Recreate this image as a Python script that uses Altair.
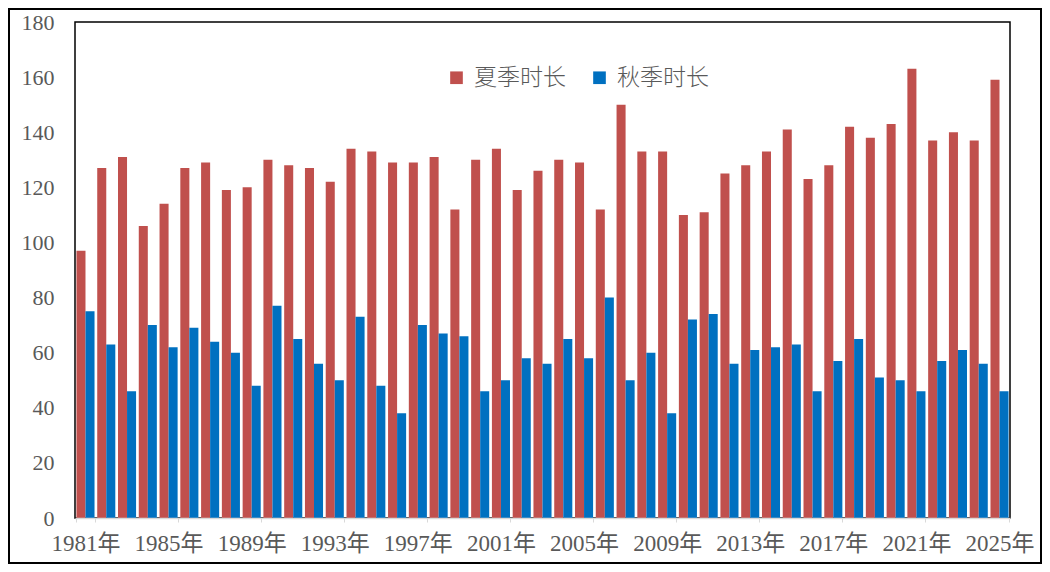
import altair as alt
import pandas as pd

years = list(range(1981, 2026))
summer = [97, 127, 131, 106, 114, 127, 129, 119, 120, 130,
          128, 127, 122, 134, 133, 129, 129, 131, 112, 130,
          134, 119, 126, 130, 129, 112, 150, 133, 133, 110,
          111, 125, 128, 133, 141, 123, 128, 142, 138, 143,
          163, 137, 140, 137, 159]
autumn = [75, 63, 46, 70, 62, 69, 64, 60, 48, 77,
          65, 56, 50, 73, 48, 38, 70, 67, 66, 46,
          50, 58, 56, 65, 58, 80, 50, 60, 38, 72,
          74, 56, 61, 62, 63, 46, 57, 65, 51, 50,
          46, 57, 61, 56, 46]
series = ["夏季时长", "秋季时长"]
colors = ["#C0504D", "#0070C0"]
year_labels = [f"{y}年" for y in years]
tick_labels = [f"{y}年" for y in years if (y - 1981) % 4 == 0]

rows = []
for lab, s, a in zip(year_labels, summer, autumn):
    rows.append({"year": lab, "series": series[0], "value": s})
    rows.append({"year": lab, "series": series[1], "value": a})
df = pd.DataFrame(rows)

serif = "Times New Roman, Liberation Serif, Noto Sans CJK SC"

bars = alt.Chart(df).mark_bar().encode(
    x=alt.X("year:N", sort=year_labels,
            scale=alt.Scale(paddingInner=0.13, paddingOuter=0.07),
            axis=alt.Axis(title=None, labelAngle=0, values=tick_labels,
                          labelFont=serif, labelFontSize=23, labelColor="#595959",
                          labelPadding=10, domainColor="#D9D9D9", domainWidth=1.5,
                          tickColor="#D9D9D9", tickSize=4, tickBand="extent",
                          zindex=1)),
    xOffset=alt.XOffset("series:N", sort=series,
                        scale=alt.Scale(paddingInner=0, paddingOuter=0)),
    y=alt.Y("value:Q", scale=alt.Scale(domain=[0, 180], nice=False),
            axis=alt.Axis(title=None, values=list(range(0, 181, 20)),
                          labelFont=serif, labelFontSize=22, labelColor="#595959",
                          labelPadding=21, domain=False, ticks=False, grid=False)),
    color=alt.Color("series:N", sort=series,
                    scale=alt.Scale(domain=series, range=colors),
                    legend=alt.Legend(title=None, orient="none", direction="horizontal",
                                      legendX=370, legendY=44, symbolType="square",
                                      symbolSize=160, symbolStrokeWidth=0,
                                      labelFont="Noto Sans CJK SC", labelFontSize=23,
                                      labelColor="#595959", labelFontWeight=300,
                                      columnPadding=22, symbolOffset=0, labelOffset=6)),
)

frame = alt.Chart(alt.Data(values=[{}])).mark_rect(
    fill="transparent", stroke="black", strokeWidth=2
).encode(
    x=alt.value(-66), x2=alt.value(966), y=alt.value(-13), y2=alt.value(541)
)

chart = alt.layer(bars, frame).properties(
    width=935, height=496,
    padding={"left": 67, "top": 14, "right": 32, "bottom": 46},
    autosize=alt.AutoSizeParams(type="none"),
).configure_view(
    stroke="black", strokeWidth=1.5
)

chart.save("out.html", embed_options={"renderer": "svg", "actions": False})
